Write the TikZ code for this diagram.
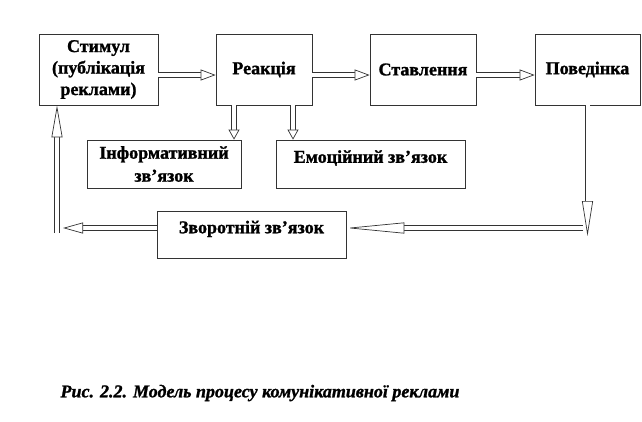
\documentclass[tikz,border=0pt]{standalone}
\usepackage{fontspec}
\setmainfont{Liberation Serif}[BoldFeatures={FakeBold=1.3}, BoldItalicFeatures={FakeBold=1.3}]
\usetikzlibrary{positioning, arrows.meta}

\begin{document}
\begin{tikzpicture}[x=1pt, y=-1pt,
    block/.style={draw=black!80, line width=0.8pt, inner sep=2pt, align=center,
        font=\bfseries\fontsize{18}{21.5}\selectfont},
    toptext/.style={text height=12pt, text depth=14.5pt},
    hollow/.style={draw=black!80, double=white, double distance=4pt, line width=0.7pt,
        -{Triangle[open, fill=white, length=#1, width=11pt]}},
    hollow/.default=15pt]

    \useasboundingbox (0,0) rectangle (642,421);

    % Top row
    \node[block, minimum width=119, minimum height=71] (stimul) at (98.5,69.5) {Стимул\\(публікація\\реклами)};
    \node[block, minimum width=96, minimum height=71] (reakc) at (264,69.5) {Реакція};
    \node[block, minimum width=106, minimum height=71] (stavl) at (423,69.5) {Ставлення};
    \node[block, minimum width=105, minimum height=71] (poved) at (587.5,69.5) {Поведінка};

    % Reaction kinds
    \node[block, font=\bfseries\fontsize{18}{23}\selectfont, minimum width=154, minimum height=48] (inform) at (164,164) {Інформативний\\зв’язок};
    \node[block, toptext, minimum width=189, minimum height=48] (emoc) at (370.5,164) {Емоційний зв’язок};

    % Feedback
    \node[block, toptext, minimum width=189, minimum height=47] (zvor) at (251.5,234.5) {Зворотній зв’язок};

    % Forward chain
    \draw[hollow] ([yshift=-5.5]stimul.east) -- ([yshift=-5.5]reakc.west);
    \draw[hollow] ([yshift=-5.5]reakc.east) -- ([yshift=-5.5]stavl.west);
    \draw[hollow] ([yshift=-5.5]stavl.east) -- ([yshift=-5.5]poved.west);

    % Reaction branches
    \draw[hollow=10pt] ([xshift=-30]reakc.south) -- ([xshift=-30]reakc.south |- inform.north);
    \draw[hollow=10pt] ([xshift=29]reakc.south) -- ([xshift=29]reakc.south |- emoc.north);

    % Feedback loop
    \coordinate (downR) at (587.5,236);
    \coordinate (startR) at (583,228);
    \coordinate (endL) at (63,228);
    \coordinate (startL) at (57,233);
    \draw[hollow=35pt] (poved.south) -- (downR);
    \draw[hollow=58pt] (startR) -- (startR -| zvor.east);
    \draw[hollow=20pt] (endL -| zvor.west) -- (endL);
    \draw[hollow=32pt] (startL) -- (startL |- stimul.south);

    % Caption
    \node[font=\bfseries\itshape\fontsize{18}{20}\selectfont, anchor=west] (caption) at (57,393)
        {Рис. 2.2. Модель процесу комунікативної реклами};
\end{tikzpicture}
\end{document}
